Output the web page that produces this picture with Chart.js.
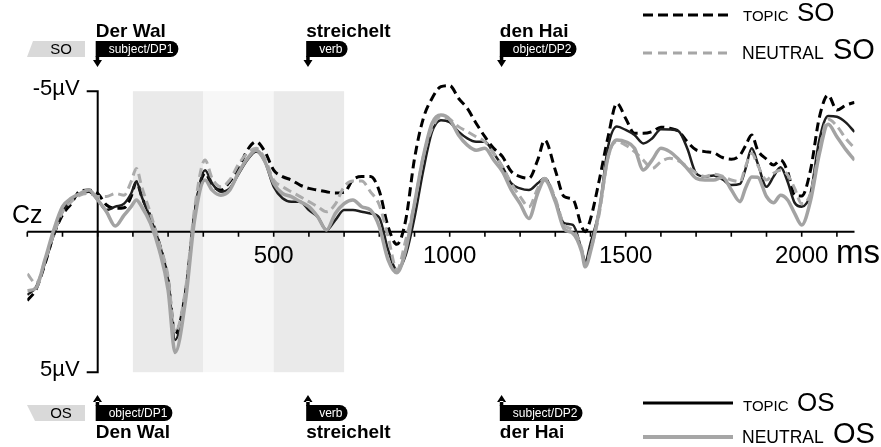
<!DOCTYPE html>
<html>
<head>
<meta charset="utf-8">
<script src="https://cdn.jsdelivr.net/npm/chart.js@4/dist/chart.umd.min.js"></script>
<style>
html,body{margin:0;padding:0;background:#fff;}
#wrap{width:881px;height:447px;position:relative;}
</style>
</head>
<body>
<div id="wrap"><canvas id="c" width="881" height="447"></canvas></div>
<script>
// ---- data (µV, negative plotted up) ----
const times = [-200,-175,-150,-125,-100,-75,-50,-25,0,25,50,75,95,110,125,150,175,200,220,250,275,305,325,350,375,400,425,450,475,500,525,550,575,600,625,650,675,700,725,750,775,800,825,850,875,900,925,950,975,1000,1025,1050,1075,1100,1125,1150,1175,1200,1225,1250,1270,1300,1325,1350,1375,1385,1400,1425,1450,1475,1500,1525,1550,1575,1600,1625,1650,1675,1700,1725,1750,1775,1800,1825,1840,1858,1875,1900,1920,1940,1960,1980,2000,2025,2050,2075,2100,2125,2150];

const topicSO = [2.45,2.05,1.15,0.12,-0.6,-1.0,-1.45,-1.48,-1.36,-0.95,-0.83,-0.85,-1.25,-1.78,-1.25,-0.53,0.42,1.72,3.65,2.1,-0.6,-2.08,-1.66,-1.48,-1.78,-2.25,-2.9,-3.2,-2.85,-2.19,-1.96,-1.84,-1.66,-1.54,-1.48,-1.42,-1.38,-1.4,-1.85,-1.96,-1.96,-1.45,-0.18,0.45,-0.41,-2.6,-4.03,-4.75,-5.16,-5.2,-4.75,-4.39,-3.86,-3.38,-2.97,-2.67,-2.14,-1.96,-1.9,-2.55,-3.26,-2.19,-1.25,-1.15,-0.18,0.0,-0.45,-1.84,-3.38,-4.57,-4.03,-3.5,-3.5,-3.56,-3.72,-3.68,-3.58,-3.2,-2.91,-2.85,-2.81,-2.64,-2.58,-2.73,-3.05,-3.44,-2.9,-2.58,-2.37,-2.55,-2.14,-1.3,-1.27,-2.19,-4.06,-4.86,-4.33,-4.5,-4.6];

const neutralSO = [1.5,1.84,1.05,0.1,-0.71,-1.07,-1.3,-1.36,-1.25,-1.25,-1.36,-1.3,-1.78,-2.25,-1.6,-0.65,0.42,1.6,3.6,2.0,-0.8,-2.55,-1.9,-1.6,-1.84,-2.4,-2.8,-2.97,-2.6,-1.84,-1.6,-1.42,-1.25,-1.07,-0.89,-0.71,-0.98,-1.6,-1.8,-1.8,-1.42,-0.95,0.18,1.36,0.3,-1.0,-2.67,-3.68,-4.09,-4.0,-3.74,-3.56,-3.38,-3.2,-2.79,-2.31,-1.72,-1.25,-0.89,-1.54,-1.9,-1.19,-0.24,-0.06,0.6,1.19,0.65,-0.65,-2.67,-3.2,-3.08,-2.85,-2.55,-2.25,-2.49,-2.61,-2.52,-2.31,-2.1,-1.96,-2.05,-1.98,-1.84,-1.78,-2.31,-2.79,-2.37,-1.84,-2.08,-2.19,-2.02,-1.54,-1.0,-1.36,-2.91,-4.0,-3.76,-3.32,-2.97];

const topicOS = [2.25,1.96,1.13,0.12,-0.71,-1.13,-1.36,-1.42,-1.13,-0.77,-0.89,-1.0,-1.36,-1.78,-1.25,-0.47,0.42,1.72,3.85,2.2,-0.6,-2.19,-1.72,-1.42,-1.54,-2.05,-2.55,-2.85,-2.49,-1.6,-1.19,-1.07,-1.07,-0.77,-0.53,-0.06,-0.41,-0.77,-0.77,-0.71,-0.65,-0.5,0.65,1.36,0.83,-0.5,-2.19,-3.56,-3.97,-3.9,-3.56,-3.32,-3.2,-3.2,-2.79,-2.31,-1.72,-1.54,-1.48,-1.72,-1.9,-1.13,-0.3,-0.24,0.65,1.07,0.41,-0.77,-3.03,-3.74,-3.62,-3.44,-3.14,-3.32,-3.65,-3.64,-3.58,-2.96,-2.08,-1.96,-2.0,-1.86,-1.66,-1.7,-2.22,-2.97,-2.43,-1.6,-1.96,-2.29,-1.78,-1.03,-0.89,-1.36,-3.26,-4.12,-4.09,-3.89,-3.55];

const neutralOS = [2.1,2.0,1.0,-0.06,-0.89,-1.19,-1.36,-1.48,-1.13,-0.71,-0.2,-0.59,-0.89,-1.13,-0.89,-0.3,0.65,2.08,4.3,2.4,-0.4,-1.84,-1.48,-1.3,-1.48,-2.1,-2.6,-2.9,-2.5,-1.72,-1.36,-1.25,-1.07,-0.89,-0.53,-0.06,-0.65,-1.0,-1.13,-0.89,-0.77,-0.18,1.0,1.46,0.65,-1.0,-2.67,-3.86,-4.15,-4.0,-3.44,-3.08,-2.9,-2.97,-2.55,-2.14,-1.49,-1.0,-0.47,-1.37,-1.84,-1.07,-0.1,0.06,0.71,1.25,0.71,-0.77,-2.67,-3.26,-3.2,-2.97,-2.2,-2.55,-2.97,-2.85,-2.58,-2.25,-1.9,-1.84,-1.84,-1.94,-1.49,-1.07,-1.54,-1.95,-1.94,-1.25,-1.03,-1.3,-1.13,-0.65,-0.24,-1.1,-2.76,-3.82,-3.38,-2.93,-2.55];

const xTickLabels = [500, 1000, 1500, 2000];
const windowBounds = [100, 300, 500, 700];
const wordOnsets = [0, 598, 1148];
const wordsSO = ['Der Wal', 'streichelt', 'den Hai'];
const rolesSO = ['subject/DP1', 'verb', 'object/DP2'];
const wordsOS = ['Den Wal', 'streichelt', 'der Hai'];
const rolesOS = ['object/DP1', 'verb', 'subject/DP2'];

// ---- drawing ----
const FONT = "'Liberation Sans', Arial, Helvetica, sans-serif";
const pts = arr => times.map((t, i) => ({x: t, y: arr[i]}));

function text(ctx, s, x, y, size, opts = {}) {
  ctx.save();
  ctx.font = (opts.bold ? 'bold ' : '') + size + 'px ' + FONT;
  ctx.fillStyle = opts.color || '#000';
  ctx.textAlign = opts.align || 'left';
  ctx.textBaseline = 'alphabetic';
  ctx.fillText(s, x, y);
  ctx.restore();
}

function roleTag(ctx, left, top, label, arrowDown) {
  const h = 16, r = 8;
  ctx.save();
  ctx.font = '12px ' + FONT;
  const tw = ctx.measureText(label).width;
  const w = tw + 18;
  ctx.fillStyle = '#000';
  ctx.beginPath();
  ctx.moveTo(left, top);
  ctx.lineTo(left + w - r, top);
  ctx.arc(left + w - r, top + r, r, -Math.PI / 2, Math.PI / 2);
  ctx.lineTo(left, top + h);
  ctx.closePath();
  ctx.fill();
  const ax = left + 1.8;
  ctx.beginPath();
  if (arrowDown) {
    ctx.rect(left, top + h - 1, 3.5, 5);
    ctx.moveTo(ax - 4.5, top + h + 3);
    ctx.lineTo(ax + 4.5, top + h + 3);
    ctx.lineTo(ax, top + h + 10);
  } else {
    ctx.rect(left, top - 4, 3.5, 5);
    ctx.moveTo(ax - 4.5, top - 3);
    ctx.lineTo(ax + 4.5, top - 3);
    ctx.lineTo(ax, top - 10);
  }
  ctx.fill();
  ctx.fillStyle = '#fff';
  ctx.textAlign = 'right';
  ctx.fillText(label, left + w - 5, top + 12);
  ctx.restore();
}

function condTag(ctx, pts4, label, baseline) {
  ctx.save();
  ctx.fillStyle = '#d9d9d9';
  ctx.beginPath();
  pts4.forEach((p, i) => i ? ctx.lineTo(p[0], p[1]) : ctx.moveTo(p[0], p[1]));
  ctx.closePath();
  ctx.fill();
  ctx.restore();
  text(ctx, label, 61, baseline, 15, {align: 'center'});
}

const overlay = {
  id: 'overlay',
  beforeDatasetsDraw(chart) {
    const {ctx, scales: {x, y}} = chart;
    const yTop = y.getPixelForValue(-5), yBot = y.getPixelForValue(5), y0 = y.getPixelForValue(0);
    const shades = ['#eaeaea', '#f7f7f7', '#eaeaea'];
    for (let i = 0; i < 3; i++) {
      const a = x.getPixelForValue(windowBounds[i]), b = x.getPixelForValue(windowBounds[i + 1]);
      ctx.fillStyle = shades[i];
      ctx.fillRect(a, yTop, b - a, yBot - yTop);
    }
    ctx.save();
    ctx.strokeStyle = '#000';
    ctx.lineWidth = 2;
    ctx.lineCap = 'butt';
    // x axis
    ctx.beginPath();
    ctx.moveTo(x.getPixelForValue(-200), y0);
    ctx.lineTo(x.getPixelForValue(2150), y0);
    ctx.stroke();
    ctx.lineWidth = 1.6;
    ctx.beginPath();
    for (let t = -200; t <= 2100; t += 100) {
      const px = x.getPixelForValue(t);
      ctx.moveTo(px, y0);
      ctx.lineTo(px, y0 + 5);
    }
    ctx.stroke();
    // y axis
    const x0 = x.getPixelForValue(0);
    ctx.lineWidth = 2;
    ctx.lineJoin = 'miter';
    ctx.beginPath();
    ctx.moveTo(x0 - 11, yTop);
    ctx.lineTo(x0, yTop);
    ctx.lineTo(x0, yBot);
    ctx.lineTo(x0 - 11, yBot);
    ctx.stroke();
    ctx.restore();
  },
  afterDraw(chart) {
    const {ctx, scales: {x, y}} = chart;
    const yTop = y.getPixelForValue(-5), yBot = y.getPixelForValue(5), y0 = y.getPixelForValue(0);
    const x0 = x.getPixelForValue(0);
    text(ctx, '-5\u00b5V', x0 - 18, yTop + 4, 22, {align: 'right'});
    text(ctx, '5\u00b5V', x0 - 18, yBot + 4, 22, {align: 'right'});
    text(ctx, 'Cz', 12, y0 - 9, 25);
    xTickLabels.forEach(v => text(ctx, String(v), x.getPixelForValue(v), y0 + 31, 24, {align: 'center'}));
    text(ctx, 'ms', 836, y0 + 31, 33);

    // condition tags
    condTag(ctx, [[33, 41], [85, 41], [85, 57], [27, 57]], 'SO', 54);
    condTag(ctx, [[27, 405], [85, 405], [85, 421], [35, 421]], 'OS', 418);

    wordOnsets.forEach((t, i) => {
      const left = x.getPixelForValue(t) - 2;
      text(ctx, wordsSO[i], left, 37, 19, {bold: true});
      roleTag(ctx, left, 41, rolesSO[i], true);
      roleTag(ctx, left, 405, rolesOS[i], false);
      text(ctx, wordsOS[i], left, 438, 19, {bold: true});
    });

    // legend
    const lg = (yl, dash, color, width) => {
      ctx.save();
      ctx.strokeStyle = color; ctx.lineWidth = width; ctx.setLineDash(dash);
      ctx.beginPath(); ctx.moveTo(643, yl); ctx.lineTo(733, yl); ctx.stroke();
      ctx.restore();
    };
    lg(15, [10, 5], '#000', 3);
    text(ctx, 'TOPIC', 743, 20.5, 15);
    text(ctx, 'SO', 797, 20.5, 26);
    lg(53, [9, 6], '#a6a6a6', 3);
    text(ctx, 'NEUTRAL', 742, 58.5, 17.5);
    text(ctx, 'SO', 833, 58.5, 29);
    lg(403, [], '#000', 3);
    text(ctx, 'TOPIC', 743, 410.5, 15);
    text(ctx, 'OS', 797, 410.5, 26);
    lg(437, [], '#a6a6a6', 4);
    text(ctx, 'NEUTRAL', 742, 442.5, 17.5);
    text(ctx, 'OS', 833, 442.5, 29);
  }
};

const ds = (label, arr, color, width, dash) => ({
  label, data: pts(arr), borderColor: color, borderWidth: width, borderDash: dash,
  pointRadius: 0, fill: false, cubicInterpolationMode: 'monotone', borderCapStyle: 'butt', borderJoinStyle: 'round'
});

new Chart(document.getElementById('c'), {
  type: 'line',
  data: {
    datasets: [
      ds('NEUTRAL OS', neutralOS, '#a3a3a3', 3.5, []),
      ds('NEUTRAL SO', neutralSO, '#ababab', 3, [9, 5]),
      ds('TOPIC OS', topicOS, '#1e1e1e', 2.5, []),
      ds('TOPIC SO', topicSO, '#000', 3, [9, 5])
    ]
  },
  options: {
    responsive: false,
    devicePixelRatio: 1,
    animation: false,
    layout: {padding: {left: 27.3, right: 26.5, top: 6.9, bottom: 4.55}},
    scales: {
      x: {type: 'linear', min: -200, max: 2150, display: false},
      y: {type: 'linear', min: -8, max: 7.5, reverse: true, display: false}
    },
    plugins: {legend: {display: false}, tooltip: {enabled: false}}
  },
  plugins: [overlay]
});
</script>
</body>
</html>
